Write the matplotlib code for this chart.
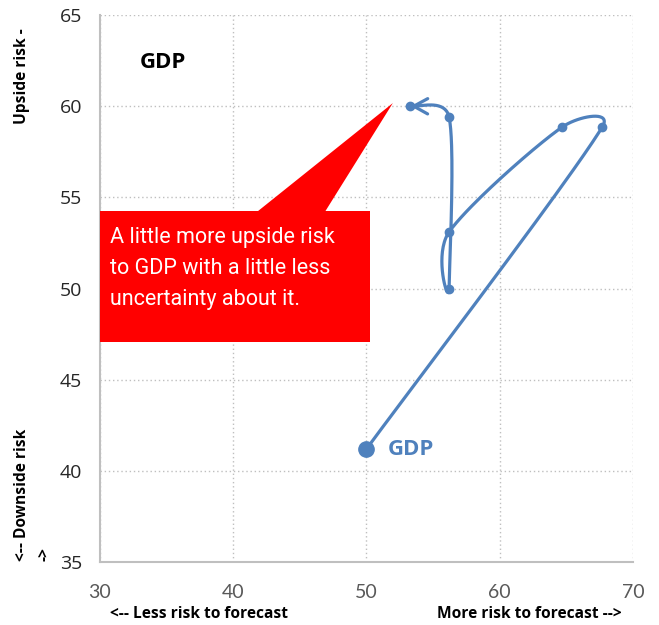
import numpy as np
import matplotlib
matplotlib.use("Agg")
import matplotlib.pyplot as plt
from matplotlib.patches import Rectangle, Polygon

# path of GDP risk (x = risk to forecast, y = upside/downside)
risk_x = [50.0, 67.7, 64.7, 56.2, 56.2, 56.2, 53.3]
risk_y = [41.2, 58.86, 58.86, 53.1, 50.0, 59.4, 60.0]

x_ticks = [30, 40, 50, 60, 70]
y_ticks = [35, 40, 45, 50, 55, 60, 65]

callout_text = "A little more upside risk\nto GDP with a little less\nuncertainty about it."

BLUE = "#4F81BD"
RED = "#FF0000"
FONT = ["Open Sans", "DejaVu Sans"]


def smooth(ax, xs, ys, steps=40):
    """Excel-like smoothed line: bezier through the points, in display space."""
    pts = ax.transData.transform(np.column_stack([xs, ys]))
    p = np.vstack([pts[0], pts, pts[-1]])
    out = []
    t = np.linspace(0, 1, steps)[:, None]
    for i in range(1, len(p) - 2):
        p0, p1, p2, p3 = p[i - 1], p[i], p[i + 1], p[i + 2]
        seg_len = np.linalg.norm(p2 - p1)
        d1 = (p2 - p0) / 6
        d2 = (p3 - p1) / 6
        # keep handles from getting longer than half the segment
        for d in (d1, d2):
            n = np.linalg.norm(d)
            if n > seg_len / 2:
                d *= (seg_len / 2) / n
        c1 = p1 + d1
        c2 = p2 - d2
        seg = ((1 - t) ** 3) * p1 + 3 * ((1 - t) ** 2) * t * c1 \
            + 3 * (1 - t) * t ** 2 * c2 + t ** 3 * p2
        out.append(seg if i == 1 else seg[1:])
    out = np.vstack(out)
    return ax.transData.inverted().transform(out)


fig = plt.figure(figsize=(6.59, 6.25), dpi=100)
ax = fig.add_axes([0.1517, 0.1008, 0.8088, 0.8752])
ax.set_xlim(30, 70)
ax.set_ylim(35, 65)
ax.set_xticks(x_ticks)
ax.set_yticks(y_ticks)
ax.tick_params(axis="x", length=0, pad=16, labelsize=14, labelcolor="#595959")
ax.tick_params(axis="y", length=0, pad=13, labelsize=14, labelcolor="#262626")
for lab in ax.get_xticklabels():
    lab.set_family(["Lato", "DejaVu Sans"])
for lab in ax.get_yticklabels():
    lab.set_family(FONT)

ax.grid(True, color="#BFBFBF", ls=(0, (1, 2)), lw=1)
for s in ["top", "right"]:
    ax.spines[s].set_visible(False)
for s in ["left", "bottom"]:
    ax.spines[s].set_color("#BFBFBF")
    ax.spines[s].set_linewidth(1.5)

# callout box + pointer
ax.add_patch(Rectangle((30, 47.06), 20.25, 7.19, facecolor=RED,
                       edgecolor="none", zorder=4))
ax.add_patch(Polygon([(41.78, 54.2), (51.98, 60.17), (46.88, 54.2)],
                     closed=True, facecolor=RED, edgecolor="none", zorder=4))
ax.text(30.75, 53.4, callout_text, color="white", fontsize=15.5,
        family=["Roboto", "DejaVu Sans"], va="top",
        linespacing=1.65, zorder=5)

# smoothed path
curve = smooth(ax, risk_x, risk_y)
ax.plot(curve[:, 0], curve[:, 1], color=BLUE, lw=2.3, zorder=6,
        solid_capstyle="round")
ax.plot(risk_x[1:], risk_y[1:], "o", color=BLUE, ms=6, zorder=7)
ax.plot(risk_x[0], risk_y[0], "o", color=BLUE, ms=11, zorder=7)
ax.annotate("", xy=(risk_x[-1], risk_y[-1]), xytext=tuple(curve[-8]),
            arrowprops=dict(arrowstyle="->,head_length=1.0,head_width=0.55",
                            color=BLUE, lw=2.3, shrinkA=0, shrinkB=0),
            zorder=7)

ax.text(51.6, 41.15, "GDP", color=BLUE, fontsize=16, fontweight="bold",
        family=FONT, va="center", ha="left")
ax.text(33.0, 62.42, "GDP", color="black", fontsize=16, fontweight="bold",
        family=FONT, va="center", ha="left")

# axis labels
lab_kw = dict(fontsize=11.2, fontweight="bold", family=FONT)
fig.text(110 / 659, 1 - 614 / 625, "<-- Less risk to forecast",
         va="center", ha="left", **lab_kw)
fig.text(622 / 659, 1 - 614 / 625, "More risk to forecast -->",
         va="center", ha="right", **lab_kw)
fig.text(22 / 659, 1 - 28 / 625, "Upside risk -",
         va="top", ha="center", rotation=90, **lab_kw)
fig.text(22 / 659, 1 - 561 / 625, "<-- Downside risk",
         va="bottom", ha="center", rotation=90, **lab_kw)
fig.text(44 / 659, 1 - 561 / 625, "->",
         va="bottom", ha="center", rotation=90, **lab_kw)

fig.savefig("out.png", dpi=100)
